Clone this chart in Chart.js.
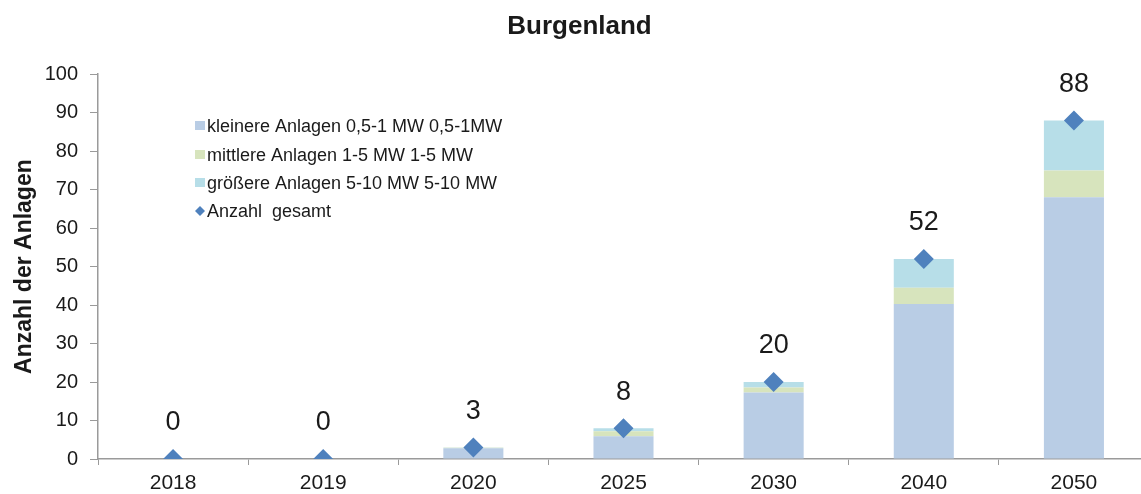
<!DOCTYPE html>
<html lang="de">
<head>
<meta charset="UTF-8"/>
<title>Burgenland</title>
<script src="https://cdn.jsdelivr.net/npm/chart.js@4/dist/chart.umd.min.js"></script>
<style>
  html, body { margin:0; padding:0; background:#fff; overflow:hidden; }
  #wrap { width:1159px; height:494px; }
</style>
</head>
<body>
<div id="wrap"><canvas id="chart" width="1159" height="494"></canvas></div>
<script>
  // Daten
  const years = ['2018', '2019', '2020', '2025', '2030', '2040', '2050'];
  const klein = [0, 0, 2.8, 5.9, 17.3, 40.3, 68];
  const mittel = [0, 0, 0.1, 1.3, 1.3, 4.2, 7];
  const gross = [0, 0, 0.1, 0.8, 1.4, 7.5, 13];
  const gesamt = [0, 0, 3, 8, 20, 52, 88];
  const yTicks = [0, 10, 20, 30, 40, 50, 60, 70, 80, 90, 100];

  const FONT = '"Liberation Sans", Arial, sans-serif';
  const TXT = '#1a1a1a';
  const AXIS = '#9a9a9a';

  const legendItems = [
    { text: 'kleinere Anlagen 0,5-1 MW 0,5-1MW', color: '#b9cde5', diamond: false },
    { text: 'mittlere Anlagen 1-5 MW 1-5 MW', color: '#d7e4bd', diamond: false },
    { text: 'größere Anlagen 5-10 MW 5-10 MW', color: '#b7dee8', diamond: false },
    { text: 'Anzahl  gesamt', color: '#4f81bd', diamond: true }
  ];

  // Werte über den Rauten + Legende im Diagramm
  const extras = {
    id: 'extras',
    afterDatasetsDraw(chart) {
      const ctx = chart.ctx;
      const meta = chart.getDatasetMeta(3);
      ctx.save();
      ctx.fillStyle = TXT;
      ctx.font = '27px ' + FONT;
      ctx.textAlign = 'center';
      ctx.textBaseline = 'middle';
      meta.data.forEach((pt, i) => {
        ctx.fillText(String(gesamt[i]), pt.x, pt.y - 36);
      });

      ctx.font = '18px ' + FONT;
      ctx.textAlign = 'left';
      const rows = [126, 155, 183, 211];
      legendItems.forEach((it, i) => {
        const y = rows[i];
        ctx.fillStyle = it.color;
        if (it.diamond) {
          ctx.beginPath();
          ctx.moveTo(200, y - 5); ctx.lineTo(205, y); ctx.lineTo(200, y + 5); ctx.lineTo(195, y);
          ctx.closePath(); ctx.fill();
        } else {
          ctx.fillRect(195, y - 5, 10, 9);
        }
        ctx.fillStyle = TXT;
        ctx.fillText(it.text, 207, y + 1);
      });
      ctx.restore();
    }
  };

  new Chart(document.getElementById('chart'), {
    data: {
      labels: years,
      datasets: [
        { type: 'bar', label: legendItems[0].text, data: klein, backgroundColor: '#b9cde5', order: 1 },
        { type: 'bar', label: legendItems[1].text, data: mittel, backgroundColor: '#d7e4bd', order: 1 },
        { type: 'bar', label: legendItems[2].text, data: gross, backgroundColor: '#b7dee8', order: 1 },
        { type: 'line', label: legendItems[3].text, data: gesamt, stack: 'total', showLine: false,
          pointStyle: 'rectRot', pointRadius: 10, pointHoverRadius: 10,
          backgroundColor: '#4f81bd', borderColor: '#4f81bd', borderWidth: 0, order: 0 }
      ]
    },
    options: {
      responsive: false,
      animation: false,
      layout: { padding: 0 },
      datasets: { bar: { barPercentage: 0.4, categoryPercentage: 1 } },
      plugins: {
        legend: { display: false },
        tooltip: { enabled: false },
        title: {
          display: true, text: 'Burgenland', color: TXT,
          font: { family: FONT, size: 26, weight: 'bold' },
          padding: { top: 11, bottom: 32 }
        }
      },
      scales: {
        x: {
          stacked: true,
          offset: true,
          grid: { display: true, offset: true, drawOnChartArea: false, color: AXIS, tickLength: 6 },
          border: { color: AXIS, width: 1.5 },
          ticks: { color: TXT, font: { family: FONT, size: 21 }, padding: 6 },
          afterFit(s) { s.height = 35; }
        },
        y: {
          stacked: true,
          min: 0, max: 100,
          afterBuildTicks(s) { s.ticks = yTicks.map(v => ({ value: v })); },
          grid: { display: true, drawOnChartArea: false, color: AXIS, tickLength: 8 },
          border: { color: AXIS, width: 1.5 },
          ticks: { color: TXT, font: { family: FONT, size: 20 }, padding: 12 },
          title: {
            display: true, text: 'Anzahl der Anlagen', color: TXT,
            font: { family: FONT, size: 23, weight: 'bold' }, padding: { top: 11, bottom: 4 }
          },
          afterFit(s) { s.width = 98; }
        }
      }
    },
    plugins: [extras]
  });
</script>
</body>
</html>
